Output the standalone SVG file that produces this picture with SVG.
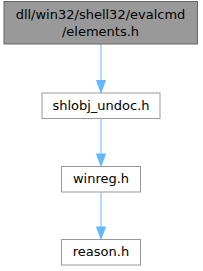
<svg xmlns="http://www.w3.org/2000/svg" width="203" height="271" viewBox="0 0 203 271">
<style>
.n{fill:#ffffff;stroke:#999999;stroke-width:1}
.t{font-family:"DejaVu Sans",sans-serif;font-size:13px;fill:#000000;text-anchor:middle}
.e{stroke:#63b8ff;stroke-width:1;fill:none}
.h{fill:#63b8ff;stroke:#63b8ff;stroke-width:1}
</style>
<rect width="203" height="271" fill="#ffffff"/>
<g id="connectors">
<line class="e" x1="101" y1="44" x2="101" y2="80.5"/>
<polygon class="h" points="96.5,80.5 101,92.5 105.5,80.5"/>
<line class="e" x1="101" y1="118.5" x2="101" y2="154"/>
<polygon class="h" points="96.5,154 101,166 105.5,154"/>
<line class="e" x1="101" y1="192" x2="101" y2="227"/>
<polygon class="h" points="96.5,227 101,239 105.5,227"/>
</g>
<g id="node1">
<rect x="4" y="1.5" width="193.5" height="42.5" fill="#999999" stroke="#666666"/>
<text class="t" x="100.5" y="19">dll/win32/shell32/evalcmd</text>
<text class="t" x="100.5" y="35.5">/elements.h</text>
</g>
<g id="node2">
<rect class="n" x="42" y="93" width="118" height="25.5"/>
<text class="t" x="101" y="109.5">shlobj_undoc.h</text>
</g>
<g id="node3">
<rect class="n" x="61.5" y="166.5" width="79" height="25.5"/>
<text class="t" x="101" y="182.5">winreg.h</text>
</g>
<g id="node4">
<rect class="n" x="61.5" y="239.5" width="79" height="25.5"/>
<text class="t" x="101" y="255.5">reason.h</text>
</g>
</svg>
